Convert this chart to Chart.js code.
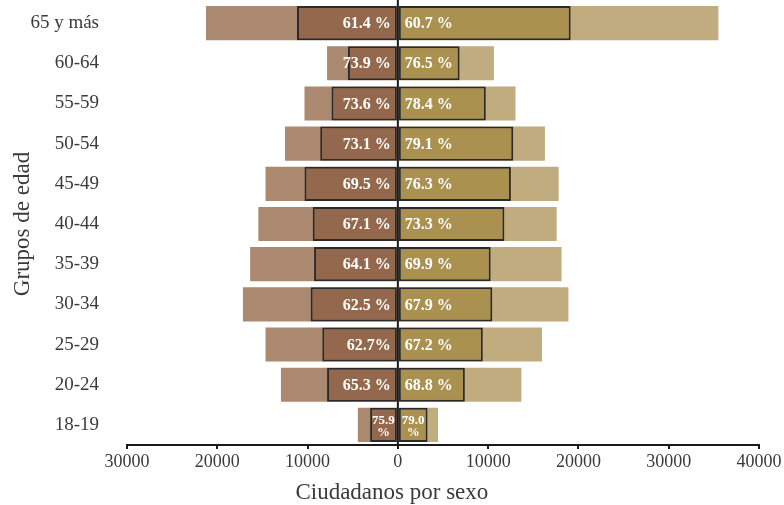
<!DOCTYPE html>
<html>
<head>
<meta charset="utf-8">
<script src="https://cdn.jsdelivr.net/npm/chart.js@4.4.1/dist/chart.umd.min.js"></script>
<style>
  html, body { margin: 0; padding: 0; background: #fff; }
  #wrap { width: 784px; height: 505px; }
</style>
</head>
<body>
<div id="wrap"><canvas id="pyramid"></canvas></div>
<script>
// grupos de edad, de arriba hacia abajo
const grupos = ['65 y más', '60-64', '55-59', '50-54', '45-49', '40-44', '35-39', '30-34', '25-29', '20-24', '18-19'];

// ciudadanos (barra clara) y votantes (barra oscura) por sexo
const hombresTotal = [21250, 7840, 10340, 12500, 14660, 15450, 16360, 17160, 14660, 12950, 4430];
const hombresVoto = [11170, 5530, 7350, 8600, 10340, 9430, 9280, 9660, 8370, 7840, 3070];
const mujeresTotal = [35500, 10640, 13030, 16290, 17810, 17590, 18130, 18890, 15960, 13680, 4450];
const mujeresVoto = [19140, 6840, 9740, 12780, 12520, 11800, 10280, 10460, 9410, 7420, 3290];

const pctHombres = ['61.4 %', '73.9 %', '73.6 %', '73.1 %', '69.5 %', '67.1 %', '64.1 %', '62.5 %', '62.7%', '65.3 %', '75.9 %'];
const pctMujeres = ['60.7 %', '76.5 %', '78.4 %', '79.1 %', '76.3 %', '73.3 %', '69.9 %', '67.9 %', '67.2 %', '68.8 %', '79.0 %'];

const neg = arr => arr.map(v => -v);
const FONT = "'Liberation Serif', serif";

// linea del cero, porcentajes y titulo del eje x
const extras = {
    id: 'extras',
    afterDatasetsDraw(chart) {
        const { ctx, chartArea, scales } = chart;
        const x0 = scales.x.getPixelForValue(0);

        ctx.save();
        ctx.fillStyle = '#fff';
        ctx.textBaseline = 'middle';
        const drawSide = (idx, labels, left) => {
            chart.getDatasetMeta(idx).data.forEach((bar, i) => {
                const w = Math.abs(bar.x - bar.base);
                if (w < 45) {
                    // barra muy corta: numero y % en dos lineas
                    const [num, pct] = labels[i].split(' ');
                    const cx = (bar.x + bar.base) / 2;
                    ctx.font = 'bold 13px ' + FONT;
                    ctx.textAlign = 'center';
                    ctx.fillText(num, cx, bar.y - 4);
                    ctx.fillText(pct, cx, bar.y + 8);
                } else {
                    ctx.font = 'bold 16px ' + FONT;
                    ctx.textAlign = left ? 'right' : 'left';
                    ctx.fillText(labels[i], left ? x0 - 7 : x0 + 7, bar.y + 1);
                }
            });
        };
        drawSide(0, pctHombres, true);
        drawSide(1, pctMujeres, false);

        ctx.strokeStyle = '#1a1a1a';
        ctx.lineWidth = 2;
        ctx.beginPath();
        ctx.moveTo(x0, 0);
        ctx.lineTo(x0, chartArea.bottom);
        ctx.stroke();

        ctx.fillStyle = '#3a3a3a';
        ctx.font = '23px ' + FONT;
        ctx.textAlign = 'center';
        ctx.fillText('Ciudadanos por sexo', x0 - 6, 493);
        ctx.restore();
    }
};

new Chart(document.getElementById('pyramid'), {
    type: 'bar',
    data: {
        labels: grupos,
        datasets: [
            {
                label: 'Votantes hombres',
                data: neg(hombresVoto),
                backgroundColor: '#93684c',
                borderColor: '#2a2a2a',
                borderWidth: 2,
                borderSkipped: false,
                order: 0
            },
            {
                label: 'Votantes mujeres',
                data: mujeresVoto,
                backgroundColor: '#aa9150',
                borderColor: '#2a2a2a',
                borderWidth: 2,
                borderSkipped: false,
                order: 0
            },
            {
                label: 'Hombres',
                data: neg(hombresTotal),
                backgroundColor: '#ab8870',
                order: 1
            },
            {
                label: 'Mujeres',
                data: mujeresTotal,
                backgroundColor: '#c0ac7e',
                order: 1
            }
        ]
    },
    options: {
        indexAxis: 'y',
        responsive: true,
        maintainAspectRatio: false,
        animation: false,
        layout: { padding: { top: 3, right: 25, left: 0, bottom: 0 } },
        datasets: {
            bar: { grouped: false, categoryPercentage: 1, barPercentage: 0.85 }
        },
        plugins: {
            legend: { display: false },
            tooltip: { enabled: false }
        },
        scales: {
            x: {
                min: -30000,
                max: 40000,
                grid: {
                    drawOnChartArea: false,
                    drawTicks: true,
                    tickLength: 4,
                    color: '#1a1a1a',
                    lineWidth: 2
                },
                border: { display: true, color: '#1a1a1a', width: 2 },
                ticks: {
                    stepSize: 10000,
                    padding: 2,
                    color: '#3a3a3a',
                    font: { family: FONT, size: 18 },
                    callback: v => Math.abs(v)
                },
                afterFit(scale) { scale.height = 60; }
            },
            y: {
                grid: { display: false, drawTicks: false },
                border: { display: false },
                ticks: {
                    padding: 28,
                    color: '#3a3a3a',
                    font: { family: FONT, size: 19 }
                },
                title: {
                    display: true,
                    text: 'Grupos de edad',
                    color: '#3a3a3a',
                    font: { family: FONT, size: 23 },
                    padding: { top: 9, bottom: 0 }
                },
                afterFit(scale) {
                    scale.width = 127;
                    scale.paddingTop = 0;
                    scale.paddingBottom = 0;
                }
            }
        }
    },
    plugins: [extras]
});
</script>
</body>
</html>
